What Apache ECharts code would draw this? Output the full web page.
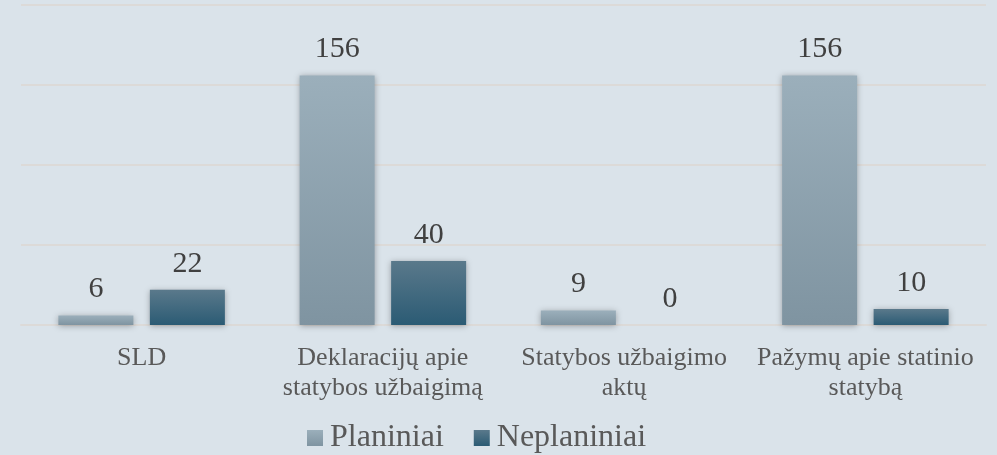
<!DOCTYPE html>
<html>
<head>
<meta charset="utf-8">
<script src="https://cdn.jsdelivr.net/npm/echarts@6/dist/echarts.min.js"></script>
<style>
  html, body { margin: 0; padding: 0; background: #dae3ea; }
  #chart { width: 997px; height: 455px; }
</style>
</head>
<body>
<div id="chart"></div>
<script>
const categories = [
  'SLD',
  'Deklaracijų apie\nstatybos užbaigimą',
  'Statybos užbaigimo\naktų',
  'Pažymų apie statinio\nstatybą'
];
const planiniai = [6, 156, 9, 156];
const neplaniniai = [22, 40, 0, 10];

const serifFamily = 'Times New Roman';

const gradient = (top, bottom) =>
  new echarts.graphic.LinearGradient(0, 0, 0, 1, [
    { offset: 0, color: top },
    { offset: 1, color: bottom }
  ]);

const chart = echarts.init(document.getElementById('chart'));

const barStyle = (top, bottom) => ({
  color: gradient(top, bottom),
  shadowBlur: 6,
  shadowColor: 'rgba(0, 0, 0, 0.3)',
  shadowOffsetY: 1
});

const valueLabel = () => ({
  show: true,
  position: 'top',
  distance: 11,
  fontFamily: serifFamily,
  fontSize: 30,
  color: '#404040'
});

chart.setOption({
  grid: { left: 21, right: 11, top: 5, bottom: 130 },
  legend: {
    left: 302,
    top: 417,
    icon: 'rect',
    itemWidth: 16,
    itemHeight: 16,
    itemGap: 30,
    textStyle: { fontFamily: serifFamily, fontSize: 32, color: '#595959', padding: [0, 0, 0, 2] },
    data: ['Planiniai', 'Neplaniniai']
  },
  xAxis: {
    type: 'category',
    data: categories,
    axisTick: { show: false },
    axisLine: { lineStyle: { color: '#dcdad8', width: 2 } },
    axisLabel: {
      margin: 18,
      fontFamily: serifFamily,
      fontSize: 26,
      lineHeight: 30,
      color: '#595959',
      interval: 0
    }
  },
  yAxis: {
    type: 'value',
    min: 0,
    max: 200,
    interval: 50,
    axisLabel: { show: false },
    axisLine: { show: false },
    axisTick: { show: false },
    splitLine: { lineStyle: { color: '#dcdad8', width: 2 } }
  },
  series: [
    {
      name: 'Planiniai',
      type: 'bar',
      barWidth: 75,
      barGap: '22%',
      data: planiniai,
      itemStyle: barStyle('#9bafbb', '#7f94a1'),
      label: valueLabel()
    },
    {
      name: 'Neplaniniai',
      type: 'bar',
      barWidth: 75,
      data: neplaniniai,
      itemStyle: barStyle('#5a798b', '#2b5b74'),
      label: valueLabel()
    }
  ]
});
</script>
</body>
</html>
